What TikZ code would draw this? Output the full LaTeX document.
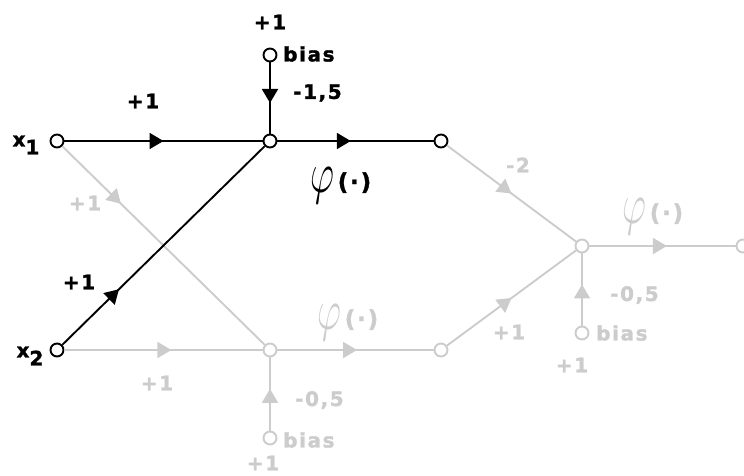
\documentclass[tikz,border=0pt]{standalone}
\usepackage{fontspec}
\usepackage{graphicx}
\setmainfont{DejaVu Sans}
\newfontfamily\lblfont[LetterSpace=8,BoldFont={DejaVu Sans Bold},BoldFeatures={FakeBold=1.5}]{DejaVu Sans}
\usetikzlibrary{arrows.meta,decorations.markings}
\definecolor{lg}{RGB}{204,204,204}
\newcommand{\phifn}{{\raisebox{-0.15em}{\scalebox{1.8}[2.8]{$\varphi$}}}\hspace{3pt}{\fontsize{23}{23}\selectfont(·)}}
\begin{document}
\begin{tikzpicture}[x=1pt,y=-1pt,
  dot/.style={circle,draw,fill=white,line width=1.9pt,minimum size=13pt,inner sep=0pt},
  gdot/.style={dot,draw=lg},
  lbl/.style={font=\lblfont\bfseries\fontsize{20}{20}\selectfont,inner sep=0pt},
  glbl/.style={lbl,text=lg},
  edge/.style={line width=1.9pt},
  midarrow/.style={postaction={decorate},decoration={markings,mark=at position #1 with {\arrow{Triangle[length=14pt,width=16pt]}}}}
]
\useasboundingbox (0,0) rectangle (744,475);
% nodes
\node[dot] (x1) at (57,141) {};
\node[dot] (x2) at (57,350) {};
\node[dot] (h1) at (270,141) {};
\node[dot] (b1) at (270,55) {};
\node[dot] (o1) at (441,141) {};
\node[gdot] (h2) at (270,350) {};
\node[gdot] (b2) at (270,438) {};
\node[gdot] (o2) at (441,350) {};
\node[gdot] (h3) at (582,246) {};
\node[gdot] (b3) at (582,333) {};
\node[gdot] (o3) at (743,246) {};
% gray edges
\draw[edge,lg,midarrow=0.29] (x1) -- (h2);
\draw[edge,lg,midarrow=0.54] (x2) -- (h2);
\draw[edge,lg,midarrow=0.51] (h2) -- (o2);
\draw[edge,lg,midarrow=0.57] (b2) -- (h2);
\draw[edge,lg,midarrow=0.5] (o1) -- (h3);
\draw[edge,lg,midarrow=0.5] (o2) -- (h3);
\draw[edge,lg,midarrow=0.53] (h3) -- (o3);
\draw[edge,lg,midarrow=0.57] (b3) -- (h3);
% black edges
\draw[edge,midarrow=0.5] (x1) -- (h1);
\draw[edge,midarrow=0.47] (h1) -- (o1);
\draw[edge,midarrow=0.57] (b1) -- (h1);
\draw[edge,midarrow=0.28] (x2) -- (h1);
% labels black
\node[lbl] (l1) at (270,22) {+1};
\node[lbl,anchor=west] (l2) at (283,54) {bias};
\node[lbl,anchor=west] (l3) at (293,93) {-1,5};
\node[lbl] (l4) at (143,101) {+1};
\node[lbl] (l5) at (79,282) {+1};
\node[lbl] (lx1) at (26,145) {x\raisebox{-0.4em}{1}};
\node[lbl] (lx2) at (30,356) {x\raisebox{-0.4em}{2}};
\node[lbl] (p1) at (341,186) {\phifn};
% labels gray
\node[glbl] (g1) at (85,203) {+1};
\node[glbl] (g2) at (157,383) {+1};
\node[glbl] (p2) at (348,323) {\phifn};
\node[glbl,anchor=west] (g3) at (295,400) {-0,5};
\node[glbl,anchor=west] (g4) at (283,440) {bias};
\node[glbl] (g5) at (263,463) {+1};
\node[glbl] (g6) at (518,165) {-2};
\node[glbl] (p3) at (653,217) {\phifn};
\node[glbl,anchor=west] (g7) at (610,295) {-0,5};
\node[glbl,anchor=west] (g8) at (596,333) {bias};
\node[glbl] (g9) at (572,365) {+1};
\node[glbl] (g10) at (509,332) {+1};
\end{tikzpicture}
\end{document}
